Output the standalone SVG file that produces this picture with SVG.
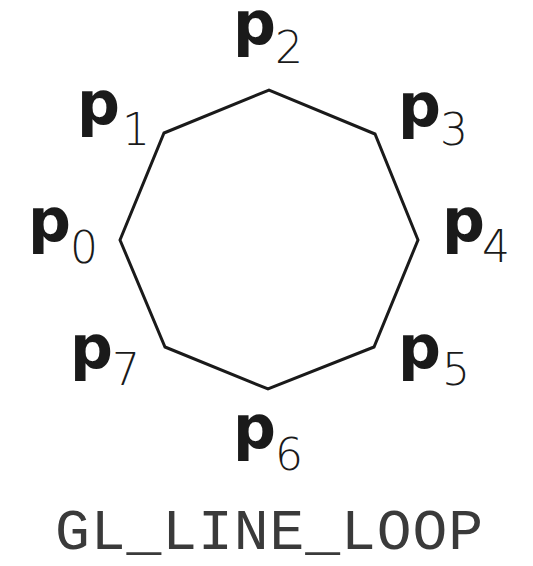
<svg xmlns="http://www.w3.org/2000/svg" width="533" height="566" viewBox="0 0 533 566">
<style>
.p{font-family:"DejaVu Sans","Liberation Sans",sans-serif;font-weight:bold;font-size:60px;fill:#1a1a1a}
.d{font-family:"DejaVu Sans","Liberation Sans",sans-serif;font-weight:200;font-size:44px;fill:#1a1a1a}
.t{font-family:"Liberation Mono","DejaVu Sans Mono",monospace;font-size:58px;fill:#3a3a3a}
.e{stroke:#1a1a1a;stroke-width:3;fill:none;stroke-linejoin:miter}
</style>
<rect width="533" height="566" fill="#fff"/>
<g id="connectors">
<polygon class="e" points="120,240 164,133 269,90 375,134 418,240 374,347 268,389 165,347"/>
</g>
<g id="p0"><text class="p" x="28" y="241">p</text><text class="d" x="70" y="263">0</text></g>
<g id="p1"><text class="p" x="77" y="124">p</text><text class="d" x="122" y="145">1</text></g>
<g id="p2"><text class="p" x="233" y="44">p</text><text class="d" x="275" y="63">2</text></g>
<g id="p3"><text class="p" x="398" y="126">p</text><text class="d" x="440" y="145">3</text></g>
<g id="p4"><text class="p" x="442" y="241">p</text><text class="d" x="482" y="262">4</text></g>
<g id="p5"><text class="p" x="398" y="368">p</text><text class="d" x="442" y="385">5</text></g>
<g id="p6"><text class="p" x="233" y="448">p</text><text class="d" x="275" y="470">6</text></g>
<g id="p7"><text class="p" x="70" y="368">p</text><text class="d" x="112" y="385">7</text></g>
<g id="caption"><text class="t" x="55" y="549" textLength="428" lengthAdjust="spacing">GL_LINE_LOOP</text></g>
</svg>
